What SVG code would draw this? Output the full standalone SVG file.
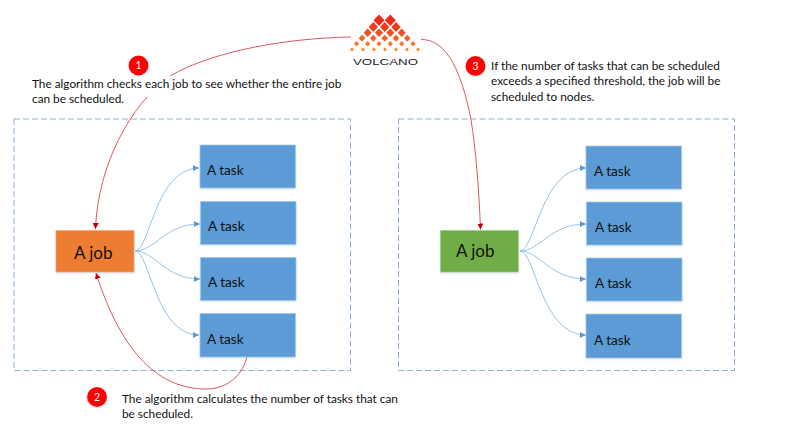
<svg xmlns="http://www.w3.org/2000/svg" width="785" height="434" viewBox="0 0 785 434">
<style>
text{font-family:"Lato","Open Sans","Liberation Sans",sans-serif;fill:#111}
.note{font-size:11.8px}
.lbl{font-size:13.6px}
.big{font-size:17px}
.task{fill:#5b9bd5;stroke:#a9cbe9;stroke-width:.7;filter:url(#sh)}
.zone{fill:none;stroke:#8aaed2;stroke-width:1;stroke-dasharray:6 3}
.blue{fill:none;stroke:#98c2e6;stroke-width:1;marker-end:url(#ab)}
.red{fill:none;stroke:#dc5a60;stroke-width:1;marker-end:url(#ar)}
.dot{fill:#fe0000;filter:url(#sh)}
.num{fill:#fff;font-size:10.5px;text-anchor:middle}
</style>
<defs>
<filter id="sh" x="-20%" y="-20%" width="140%" height="140%"><feDropShadow dx="0" dy="1" stdDeviation="1" flood-color="#7f9fbf" flood-opacity=".3"/></filter>
<marker id="ab" markerUnits="userSpaceOnUse" markerWidth="7" markerHeight="7" refX="6" refY="3" orient="auto"><path d="M0,0L6,3L0,6Z" fill="#5b9bd5"/></marker>
<marker id="ar" markerUnits="userSpaceOnUse" markerWidth="7" markerHeight="7" refX="6" refY="3" orient="auto"><path d="M0,0L6,3L0,6Z" fill="#c00000"/></marker>
</defs>
<rect width="785" height="434" fill="#fff"/>
<rect class="zone" x="14" y="119" width="336.500" height="251.500"/>
<rect class="zone" x="398.500" y="119" width="336" height="251.500"/>
<g id="connectors">
<path class="red" d="M351,37C290,38 215,50 170,76C130,105 98,165 95.500,229"/>
<path class="red" d="M247,357C241,379 224,389 206,389C160,389 122,355 96,273"/>
<path class="red" d="M421,39.500C448,39 462,75 470.700,118C476,150 479,190 480.500,229.500"/>
<path class="blue" d="M135,251C150,251 155,168 199,168"/>
<path class="blue" d="M135,251C155,251 165,224 200,224"/>
<path class="blue" d="M135,251C155,251 165,279 200,279"/>
<path class="blue" d="M135,251C150,251 155,335 199,335"/>
<path class="blue" d="M520,251C535,251 541,168 586,168"/>
<path class="blue" d="M520,251C540,251 550,224 586,224"/>
<path class="blue" d="M520,251C540,251 550,279 586,279"/>
<path class="blue" d="M520,251C535,251 541,335 586,335"/>
</g>
<g id="logo">
<g fill="#ee2a1a"><path d="M379,14.500l5.500,5.800l-5.500,5.800l-5.500-5.800Z"/><path d="M390.300,14.500l5.500,5.800l-5.500,5.800l-5.500-5.800Z"/></g>
<g fill="#f03c1e"><path d="M373.300,22l4.700,5l-4.700,5l-4.700-5Z"/><path d="M384.700,22l4.700,5l-4.700,5l-4.700-5Z"/><path d="M396,22l4.700,5l-4.700,5l-4.700-5Z"/></g>
<g fill="#f24e22"><path d="M367.700,28.500l4,4.200l-4,4.200l-4-4.200Z"/><path d="M379,28.500l4,4.200l-4,4.200l-4-4.200Z"/><path d="M390.300,28.500l4,4.200l-4,4.200l-4-4.200Z"/><path d="M401.700,28.500l4,4.200l-4,4.200l-4-4.200Z"/></g>
<g fill="#f46226"><path d="M362,34.800l3.300,3.500l-3.300,3.500l-3.300-3.500Z"/><path d="M373.300,34.800l3.300,3.500l-3.300,3.500l-3.300-3.500Z"/><path d="M384.700,34.800l3.300,3.500l-3.300,3.500l-3.300-3.500Z"/><path d="M396,34.800l3.300,3.500l-3.300,3.500l-3.300-3.500Z"/><path d="M407.300,34.800l3.300,3.500l-3.300,3.500l-3.300-3.500Z"/></g>
<g fill="#f6762a"><path d="M356.500,41l2.600,2.800l-2.600,2.800l-2.600-2.800Z"/><path d="M367.700,41l2.600,2.800l-2.600,2.800l-2.600-2.800Z"/><path d="M379,41l2.600,2.800l-2.600,2.800l-2.600-2.800Z"/><path d="M390.300,41l2.600,2.800l-2.600,2.800l-2.600-2.800Z"/><path d="M401.700,41l2.600,2.800l-2.600,2.800l-2.600-2.800Z"/><path d="M413,41l2.600,2.800l-2.600,2.800l-2.600-2.800Z"/></g>
<g fill="#f8892e"><path d="M352,47.500l2,2l-2,2l-2-2Z"/><path d="M363,47.500l2,2l-2,2l-2-2Z"/><path d="M374,47.500l2,2l-2,2l-2-2Z"/><path d="M385,47.500l2,2l-2,2l-2-2Z"/><path d="M396,47.500l2,2l-2,2l-2-2Z"/><path d="M407,47.500l2,2l-2,2l-2-2Z"/><path d="M418,47.500l2,2l-2,2l-2-2Z"/></g>
<text x="353" y="64.500" textLength="65" lengthAdjust="spacingAndGlyphs" style="font-family:'Liberation Sans',sans-serif;font-size:9px;fill:#222">VOLCANO</text>
</g>
<g id="note1">
<rect x="25" y="76" width="320" height="21" fill="#fff"/>
<circle class="dot" cx="138.500" cy="65.500" r="10"/><text class="num" x="138.500" y="69.300">1</text>
<text class="note" x="32" y="87.500">The algorithm checks each job to see whether the entire job</text>
<text class="note" x="32" y="103">can be scheduled.</text>
</g>
<g id="note2">
<circle class="dot" cx="97" cy="397" r="10"/><text class="num" x="97" y="400.800">2</text>
<text class="note" x="122" y="402.500">The algorithm calculates the number of tasks that can</text>
<text class="note" x="122" y="418">be scheduled.</text>
</g>
<g id="note3">
<circle class="dot" cx="475.500" cy="66" r="10"/><text class="num" x="475.500" y="69.800">3</text>
<text class="note" x="491" y="69.500">If the number of tasks that can be scheduled</text>
<text class="note" x="491" y="85">exceeds a specified threshold, the job will be</text>
<text class="note" x="491" y="100.500">scheduled to nodes.</text>
</g>
<g id="job1"><rect x="56" y="230.500" width="78" height="41.500" fill="#ed7d31" stroke="#f2a77a" stroke-width=".7" filter="url(#sh)"/><text class="big" x="74" y="258.500">A job</text></g>
<g id="task1"><rect class="task" x="200" y="145" width="95.500" height="43"/><text class="lbl" x="207" y="175">A task</text></g>
<g id="task2"><rect class="task" x="200.500" y="201.500" width="95.500" height="43"/><text class="lbl" x="208" y="231">A task</text></g>
<g id="task3"><rect class="task" x="200.500" y="257.500" width="95.500" height="43"/><text class="lbl" x="208" y="287">A task</text></g>
<g id="task4"><rect class="task" x="200" y="313.500" width="95.500" height="43.500"/><text class="lbl" x="207" y="344">A task</text></g>
<g id="job2"><rect x="440.500" y="230.500" width="78" height="41.500" fill="#70ad47" stroke="#a6cc8d" stroke-width=".7" filter="url(#sh)"/><text class="big" x="456" y="257">A job</text></g>
<g id="task5"><rect class="task" x="586" y="146" width="95.500" height="43"/><text class="lbl" x="594" y="176">A task</text></g>
<g id="task6"><rect class="task" x="586.500" y="202" width="95.500" height="43"/><text class="lbl" x="595" y="232">A task</text></g>
<g id="task7"><rect class="task" x="586.500" y="258" width="95.500" height="43"/><text class="lbl" x="595" y="288">A task</text></g>
<g id="task8"><rect class="task" x="586" y="314" width="95.500" height="44"/><text class="lbl" x="594" y="345">A task</text></g>
</svg>
